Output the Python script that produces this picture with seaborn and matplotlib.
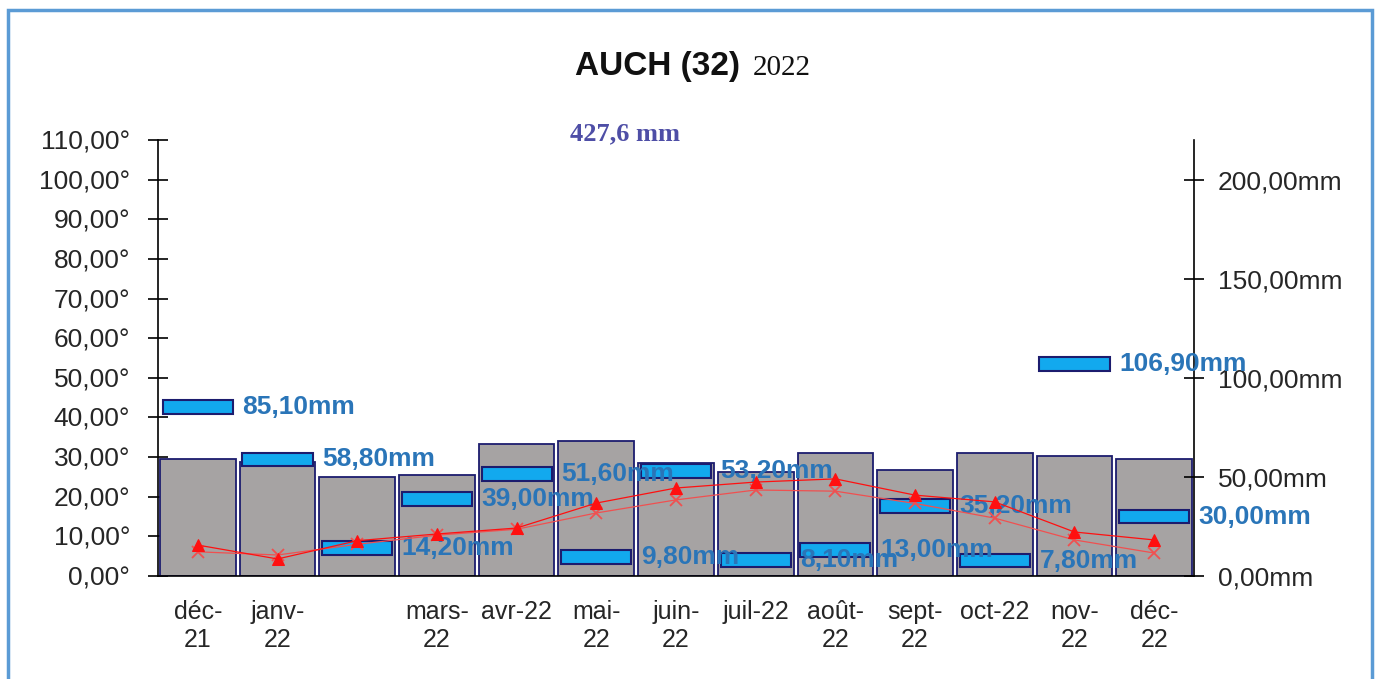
import numpy as np
import matplotlib.pyplot as plt
import seaborn as sns
import pandas as pd
from matplotlib.patches import Rectangle

sns.set_style("white")
plt.rcParams["font.family"] = ["Liberation Sans", "DejaVu Sans"]

mois = ["déc-21", "janv-22", "févr-22", "mars-22", "avr-22", "mai-22", "juin-22",
        "juil-22", "août-22", "sept-22", "oct-22", "nov-22", "déc-22"]
etiquettes = ["déc-\n21", "janv-\n22", "", "mars-\n22", "avr-22", "mai-\n22", "juin-\n22",
              "juil-22", "août-\n22", "sept-\n22", "oct-22", "nov-\n22", "déc-\n22"]
barres_deg = [29.4, 28.8, 25.0, 25.5, 33.3, 34.1, 28.5, 26.3, 31.0, 26.7, 31.0, 30.3, 29.4]
pluie_mm = [85.1, 58.8, 14.2, 39.0, 51.6, 9.8, 53.2, 8.1, 13.0, 35.2, 7.8, 106.9, 30.0]
temp_haut = [7.8, 4.3, 8.9, 10.6, 12.1, 18.4, 22.2, 23.7, 24.5, 20.4, 18.7, 11.1, 9.1]
temp_bas = [6.1, 5.3, 8.0, 10.3, 11.8, 15.9, 19.2, 21.7, 21.4, 18.3, 14.6, 9.1, 5.8]
total = "427,6 mm"

df = pd.DataFrame({"mois": mois, "deg": barres_deg, "pluie": pluie_mm,
                   "haut": temp_haut, "bas": temp_bas})
pos = np.arange(len(mois))

fig = plt.figure(figsize=(13.81, 6.79), dpi=100)
ax = fig.add_axes([0.1144, 0.1517, 0.7502, 0.6421])

sns.barplot(data=df, x="mois", y="deg", color="#A6A3A3", width=0.95,
            edgecolor="#1C1C6E", linewidth=1.3, saturation=1, ax=ax)
ax.set_ylim(0, 110)
ax.set_xlim(-0.5, 12.5)
ax.set_yticks(np.arange(0, 111, 10))
ax.set_yticklabels([f"{v:.2f}".replace(".", ",") + "°" for v in np.arange(0, 111, 10)])
ax.set_xticks(np.arange(-0.5, 13, 1))
ax.set_xticklabels([])
ax.set_xticks(pos, minor=True)
ax.set_xticklabels(etiquettes, minor=True, linespacing=1.25)
ax.tick_params(axis="x", which="major", direction="inout", length=14, width=1.2, color="black")
ax.tick_params(axis="x", which="minor", length=0, pad=17, labelsize=18)
ax.tick_params(axis="y", direction="inout", length=14, width=1.2, color="black",
               labelsize=19, pad=13)
ax.set_xlabel("")
ax.set_ylabel("")
for s in ["top", "right"]:
    ax.spines[s].set_visible(False)
for s in ["left", "bottom"]:
    ax.spines[s].set_color("black")
    ax.spines[s].set_linewidth(1.2)

# précipitations, axe de droite
ax2 = ax.twinx()
ax2.bar(pos, 7, bottom=df["pluie"] - 3.5, width=0.88, color="#12A9EE",
        edgecolor="#1C1C6E", linewidth=1.5)
for x, v in zip(pos, pluie_mm):
    ax2.text(x + 0.56, v, f"{v:.2f}".replace(".", ",") + "mm", ha="left", va="center",
             fontsize=19, fontweight="bold", color="#2A75B8", zorder=5)
ax2.set_ylim(0, 220)
ax2.set_yticks([0, 50, 100, 150, 200])
ax2.set_yticklabels([f"{v:.2f}".replace(".", ",") + "mm" for v in [0, 50, 100, 150, 200]])
ax2.tick_params(axis="y", direction="inout", length=14, width=1.2, color="black",
                labelsize=19, pad=10)
for s in ["top", "left", "bottom"]:
    ax2.spines[s].set_visible(False)
ax2.spines["right"].set_color("black")
ax2.spines["right"].set_linewidth(1.2)

# températures
ax3 = ax.twinx()
sns.lineplot(x=pos, y=temp_bas, marker="x", color="#F05050", linewidth=0.9,
             markersize=8, markeredgewidth=1.3, markeredgecolor="#F05050", ax=ax3)
sns.lineplot(x=pos, y=temp_haut, marker="^", color="#FF1010", linewidth=0.9,
             markersize=9, markeredgecolor="#FF1010", ax=ax3)
ax3.set_ylim(0, 110)
ax3.set_xlim(-0.5, 12.5)
ax3.axis("off")

fig.text(0.5358, 0.8895, "AUCH (32)", ha="right", va="baseline", fontsize=24,
         fontweight="bold", color="#111111")
fig.text(0.5453, 0.8895, "2022", ha="left", va="baseline", fontsize=21,
         family=["Liberation Serif", "DejaVu Serif"], color="#111111")
fig.text(0.4127, 0.7938, total, ha="left", va="baseline", fontsize=19,
         family=["Liberation Serif", "DejaVu Serif"], color="#4E4EA6", fontweight="bold")

fig.add_artist(Rectangle((8 / 1381, -0.05), (1372 - 8) / 1381, 1.05 - 10 / 679,
                         transform=fig.transFigure, fill=False, edgecolor="#5B9BD5",
                         linewidth=2.5))

fig.savefig("out.png", dpi=100)
